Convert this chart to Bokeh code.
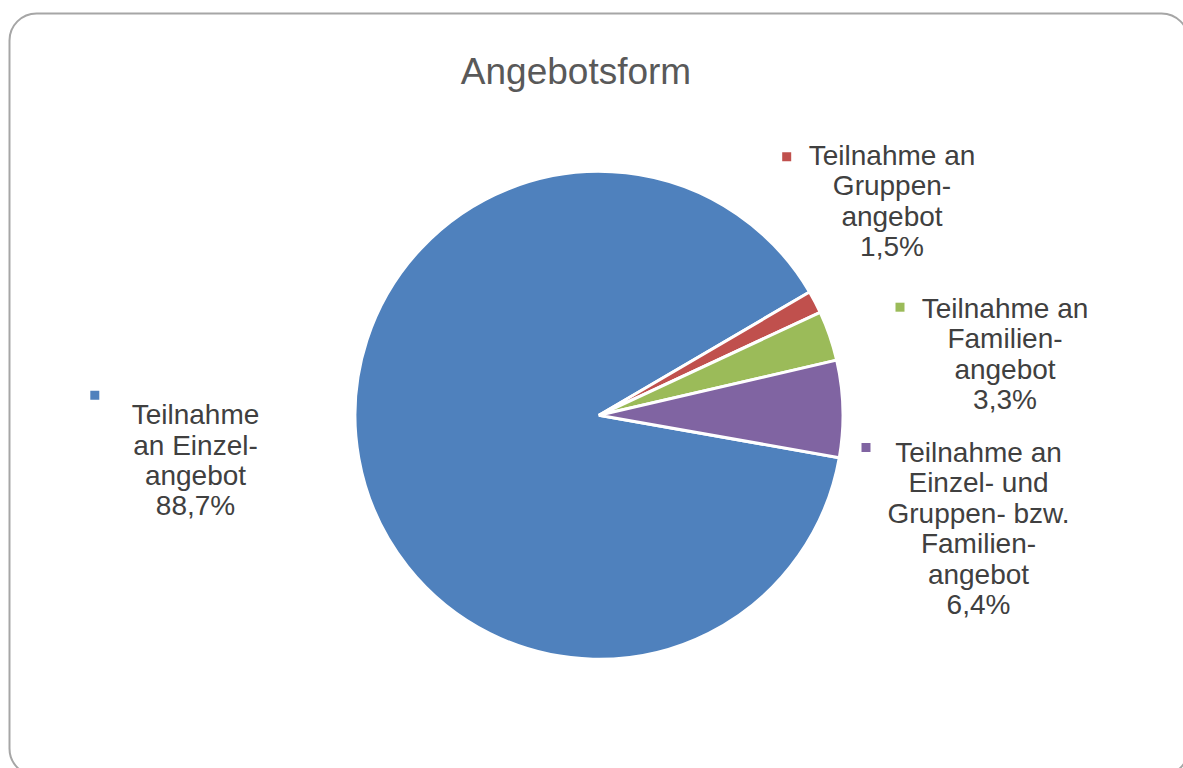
import math
from bokeh.plotting import figure
from bokeh.models import Range1d, BoxAnnotation, ColumnDataSource
from bokeh.core.properties import value
from bokeh.embed import file_html
from bokeh.resources import INLINE

# ---- data ----
title = "Angebotsform"
categories = ["Einzel", "Gruppen", "Familien", "Beide"]
shares = [88.7, 1.5, 3.3, 6.4]
colors = ["#4F81BD", "#C0504D", "#9BBB59", "#8064A2"]
label_lines = [
    ["", "Teilnahme", "an Einzel-", "angebot"],
    ["Teilnahme an", "Gruppen-", "angebot"],
    ["Teilnahme an", "Familien-", "angebot"],
    ["Teilnahme an", "Einzel- und", "Gruppen- bzw.", "Familien-", "angebot"],
]

# ---- layout (image pixel coords, y downward) ----
W, H = 1183, 768
cx, cy, r = 598.5, 414.8, 244
first_slice_angle = 100.0  # degrees clockwise from 12 o'clock
label_center_x = [195, 891.5, 1004.5, 978]
label_first_baseline = [396.7, 168, 320.7, 465]
key_pos = [(94.3, 394.7), (786.2, 156.2), (899.5, 306.7), (865.5, 447)]
line_step = 30.4
text_shift = 13.0  # renderer baseline correction

p = figure(width=W, height=H, x_range=Range1d(0, W), y_range=Range1d(0, H),
           output_backend="svg", toolbar_location=None, min_border=0,
           x_axis_type=None, y_axis_type=None)
p.grid.visible = False
p.outline_line_color = None
p.background_fill_color = "white"
p.border_fill_color = "white"

# frame
p.add_layout(BoxAnnotation(left=9, right=1188, top=H - 13, bottom=H - 775,
                           fill_alpha=0, line_color="#A6A6A6", line_alpha=1.0,
                           line_width=2, border_radius=27))

# pie
total = sum(shares)
starts, ends = [], []
cum = 0.0
for s in shares:
    a0 = 90 - first_slice_angle - cum / total * 360
    cum += s
    a1 = 90 - first_slice_angle - cum / total * 360
    starts.append(math.radians(a0))
    ends.append(math.radians(a1))
src = ColumnDataSource(dict(start=starts, end=ends, color=colors, cat=categories))
p.wedge(x=cx, y=H - cy, radius=r, start_angle="start", end_angle="end",
        direction="clock", fill_color="color", line_color="white", line_width=3,
        source=src)

# labels
xs, ys, texts = [], [], []
for i, lines in enumerate(label_lines):
    pct = f"{shares[i]:.1f}".replace(".", ",") + "%"
    all_lines = lines + [pct]
    for j, t in enumerate(all_lines):
        if t == "":
            continue
        xs.append(label_center_x[i])
        ys.append(H - (label_first_baseline[i] + j * line_step - text_shift))
        texts.append(t)
p.text(x=xs, y=ys, text=texts, text_font=value("Liberation Sans"),
       text_font_size="28px", text_color="#404040", text_align="center",
       text_baseline="alphabetic")

p.scatter(x=[k[0] for k in key_pos], y=[H - k[1] for k in key_pos],
          marker="square", size=9, fill_color=colors, line_color=None)

# title
p.text(x=[575.5], y=[H - (85 - 14)], text=[title], text_font=value("Liberation Sans"),
       text_font_size="37px", text_color="#595959", text_align="center",
       text_baseline="alphabetic")

open("out.html", "w").write(file_html(p, INLINE))
